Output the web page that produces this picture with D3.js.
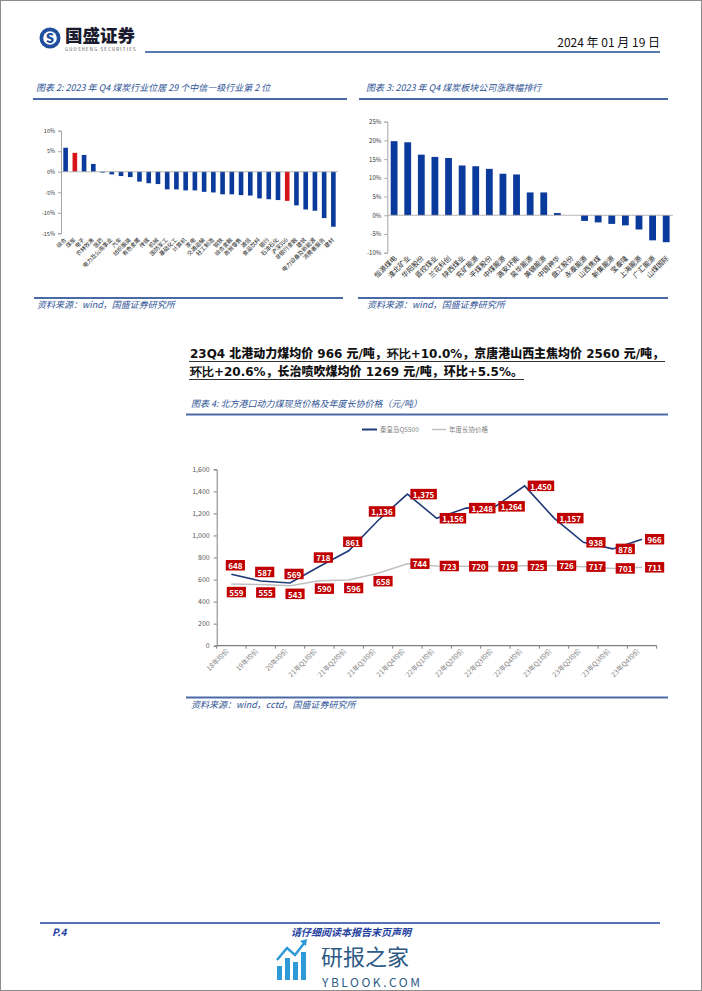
<!DOCTYPE html>
<html><head><meta charset="utf-8">
<script src="https://cdn.jsdelivr.net/npm/d3@7"></script>
<style>
body{margin:0;background:#fff}
svg{display:block}
text{font-family:"Noto Sans CJK SC","Liberation Sans",sans-serif}
</style>
</head><body>
<svg id="chart" width="702" height="991"></svg>
<script>
// ---------- DATA ----------
const industries=["综合","煤炭","电子","农林牧渔","医药","电力及公用事业","汽车","纺织服装","有色金属","传媒","机械","国防军工","基础化工","计算机","家电","交通运输","轻工制造","钢铁","综合金融","商贸零售","通信","食品饮料","银行","石油石化","沪深300","非银行金融","建筑","电力设备及新能源","消费者服务","建材"];
const industryReturns=[5.85,4.6,4.1,1.9,-0.2,-0.65,-1.05,-1.3,-2.4,-2.8,-3.0,-4.3,-4.3,-4.55,-4.55,-4.9,-5.05,-5.5,-5.5,-5.7,-5.8,-6.5,-6.7,-6.9,-7.1,-8.2,-9.2,-9.5,-11.3,-13.4];
const industryHighlight=["煤炭","沪深300"];
const industryTicks=[10,5,0,-5,-10,-15];

const companies=["恒源煤电","淮北矿业","华阳股份","晋控煤业","兰花科创","陕西煤业","兖矿能源","平煤股份","中煤能源","潞安环能","昊华能源","美锦能源","中国神华","盘江股份","永泰能源","山西焦煤","新集能源","宝泰隆","上海能源","广汇能源","山煤国际"];
const companyReturns=[19.8,19.5,16.2,15.6,15.3,13.3,13.1,12.4,11.1,10.9,6.1,6.1,0.6,0.0,-1.5,-1.9,-2.3,-2.7,-3.8,-6.7,-7.2];
const companyTicks=[25,20,15,10,5,0,-5,-10];

const periods=["18年均价","19年均价","20年均价","21年Q1均价","21年Q2均价","21年Q3均价","21年Q4均价","22年Q1均价","22年Q2均价","22年Q3均价","22年Q4均价","23年Q1均价","23年Q2均价","23年Q3均价","23年Q4均价"];
const qhdPrice=[648,587,569,718,861,1136,1375,1156,1248,1264,1450,1157,938,878,966];
const contractPrice=[559,555,543,590,596,658,744,723,720,719,725,726,717,701,711];
const priceTicks=[0,200,400,600,800,1000,1200,1400,1600];
const seriesNames=["秦皇岛Q5500","年度长协价格"];

// ---------- DRAW ----------
const svg=d3.select("#chart");
const BLUE="#1F4E9C", TITLE="#2E5395", RULE="#4A6AA5";

// page frame
svg.append("rect").attr("x",0.5).attr("y",0.5).attr("width",701).attr("height",990).attr("fill","none").attr("stroke","#8c8c8c");

// header
const lg=svg.append("g");
lg.append("circle").attr("cx",50).attr("cy",38).attr("r",10.5).attr("fill",BLUE);
lg.append("circle").attr("cx",50).attr("cy",38).attr("r",6.8).attr("fill","#fff");
lg.append("text").attr("x",50).attr("y",42.5).attr("text-anchor","middle").attr("font-size",13).attr("font-weight",900).attr("fill",BLUE).attr("font-family","DejaVu Sans").text("S");
svg.append("text").attr("x",65).attr("y",42).attr("font-size",17.5).attr("font-weight",900).attr("fill","#1a1a2e").text("国盛证券");
svg.append("text").attr("x",65).attr("y",51).attr("font-size",4.2).attr("letter-spacing",1.3).attr("fill","#333").attr("font-family","Liberation Sans").text("GUOSHENG SECURITIES");
svg.append("line").attr("x1",145).attr("x2",660).attr("y1",52).attr("y2",52).attr("stroke",BLUE).attr("stroke-width",1.6);
svg.append("text").attr("x",660).attr("y",47).attr("text-anchor","end").attr("font-size",12).attr("fill","#111")
  .attr("font-family","Liberation Sans Narrow, Liberation Sans").text("2024 年 01 月 19 日");

function titleBlock(x,y,lineX1,lineX2,lineY,txt){
  svg.append("text").attr("x",x).attr("y",y).attr("font-size",9).attr("font-style","italic").attr("fill",TITLE).text(txt);
  svg.append("line").attr("x1",lineX1).attr("x2",lineX2).attr("y1",lineY).attr("y2",lineY).attr("stroke",RULE).attr("stroke-width",2);
}
function sourceBlock(x,y,lineX1,lineX2,lineY,txt){
  svg.append("line").attr("x1",lineX1).attr("x2",lineX2).attr("y1",lineY).attr("y2",lineY).attr("stroke",RULE).attr("stroke-width",2);
  svg.append("text").attr("x",x).attr("y",y).attr("font-size",9).attr("font-style","italic").attr("fill",TITLE).text(txt);
}

titleBlock(36,91,33,347,99,"图表 2:  2023 年 Q4 煤炭行业位居 29 个中信一级行业第 2 位");
titleBlock(366,91,359,668,99,"图表 3:  2023 年 Q4 煤炭板块公司涨跌幅排行");
sourceBlock(37,308,34,343,298,"资料来源：wind，国盛证券研究所");
sourceBlock(367,308,358,668,298,"资料来源：wind，国盛证券研究所");

function barChart(o){
  const g=svg.append("g");
  const y=d3.scaleLinear().domain(o.domain).range([o.yBot,o.yTop]);
  const x=d3.scaleBand().domain(o.cats).range([o.x0,o.x1]).paddingInner(0.5).paddingOuter(0.25);
  const ax=g.append("g").attr("transform",`translate(${o.x0},0)`)
    .call(d3.axisLeft(y).tickValues(o.ticks).tickSize(3).tickPadding(3).tickFormat(d=>d+"%"));
  ax.select(".domain").attr("stroke","#a6a6a6");
  ax.selectAll(".tick line").attr("stroke","#a6a6a6");
  ax.selectAll(".tick text").attr("font-size",o.tickFont).attr("fill","#333").attr("font-family","Liberation Sans");
  g.selectAll("rect.bar").data(o.cats).join("rect").attr("class","bar")
    .attr("x",d=>x(d)).attr("width",x.bandwidth())
    .attr("y",(d,i)=>y(Math.max(0,o.vals[i]))).attr("height",(d,i)=>Math.abs(y(o.vals[i])-y(0)))
    .attr("fill",d=>o.hl.includes(d)?"#D7141A":"#0A3A9C");
  g.append("line").attr("x1",o.x0).attr("x2",o.x1).attr("y1",y(0)).attr("y2",y(0)).attr("stroke","#a6a6a6").attr("stroke-width",0.8);
  g.selectAll("text.cat").data(o.cats).join("text").attr("class","cat")
    .attr("transform",d=>`translate(${x(d)+x.bandwidth()/2+o.labDx},${o.yBot+o.labDy}) rotate(-45)`)
    .attr("text-anchor","end").attr("font-size",o.labFont).attr("fill","#222").text(d=>d);
}

barChart({x0:61,x1:338,yTop:130.7,yBot:233.3,domain:[-15,10],cats:industries,vals:industryReturns,
  ticks:industryTicks,tickFont:5.5,labFont:5.6,labDx:1,labDy:7,hl:industryHighlight});
barChart({x0:387.3,x1:673,yTop:121.7,yBot:252.7,domain:[-10,25],cats:companies,vals:companyReturns,
  ticks:companyTicks,tickFont:6,labFont:7,labDx:3,labDy:6,hl:[]});

// paragraph
function para(y,parts,width){
  const t=svg.append("text").attr("x",190).attr("y",y).attr("font-size",12).attr("font-weight",700).attr("fill","#111")
    .attr("textLength",width).attr("lengthAdjust","spacingAndGlyphs");
  parts.forEach(p=>{
    t.append("tspan").attr("font-family",p[1]?"DejaVu Sans":"Noto Sans CJK SC").attr("font-weight",p[1]?700:800).text(p[0]);
  });
  svg.append("line").attr("x1",189).attr("x2",190+width+1).attr("y1",y+3.5).attr("y2",y+3.5).attr("stroke","#333").attr("stroke-width",1);
}
para(358,[["23Q4 ",1],["北港动力煤均价",0],[" 966 ",1],["元",0],["/",1],["吨，",0],["环比+10.0%",1],["，京唐港山西主焦均价",0],[" 2560 ",1],["元",0],["/",1],["吨，",0]],474);
para(376,[["环比+20.6%",1],["，长治喷吹煤均价",0],[" 1269 ",1],["元",0],["/",1],["吨，环比",0],["+5.5%",1],["。",0]],333);

// chart 4
titleBlock(191,407,186,668,414.5,"图表 4:  北方港口动力煤现货价格及年度长协价格（元/吨）");
sourceBlock(191,708,186,668,697.5,"资料来源：wind，cctd，国盛证券研究所");

const g4=svg.append("g");
const y4=d3.scaleLinear().domain([0,1600]).range([645.7,469.3]);
const x4=d3.scaleBand().domain(periods).range([216.7,656.7]).padding(0);
const cx=p=>x4(p)+x4.bandwidth()/2;
const ax4=g4.append("g").attr("transform","translate(216.7,0)")
  .call(d3.axisLeft(y4).tickValues(priceTicks).tickSize(3).tickPadding(4).tickFormat(d3.format(",")));
ax4.select(".domain").attr("stroke","#7f7f7f");
ax4.selectAll(".tick line").attr("stroke","#7f7f7f");
ax4.selectAll(".tick text").attr("font-size",7).attr("fill","#595959").attr("font-family","Liberation Sans");
g4.append("line").attr("x1",216.7).attr("x2",656.7).attr("y1",y4(0)).attr("y2",y4(0)).attr("stroke","#7f7f7f").attr("stroke-width",1.2);
const bounds=periods.map(d=>x4(d)).concat([x4.range()[1]]);
g4.selectAll("line.xt").data(bounds).join("line").attr("class","xt")
  .attr("x1",d=>d).attr("x2",d=>d).attr("y1",y4(0)).attr("y2",y4(0)+3).attr("stroke","#7f7f7f");
g4.selectAll("text.xl").data(periods).join("text").attr("class","xl")
  .attr("transform",d=>`translate(${cx(d)-2},${y4(0)+6}) rotate(-45)`)
  .attr("text-anchor","end").attr("font-size",6.8).attr("fill","#7f7f7f").text(d=>d);

const line4=d3.line().x((d,i)=>cx(periods[i])).y(d=>y4(d));
g4.append("path").attr("d",line4(contractPrice)).attr("fill","none").attr("stroke","#c0c0c0").attr("stroke-width",1.5);
g4.append("path").attr("d",line4(qhdPrice)).attr("fill","none").attr("stroke","#1F3A7A").attr("stroke-width",1.6);

function dataLabels(vals,mode){
  vals.forEach((v,i)=>{
    const px=cx(periods[i]), py=y4(v);
    const rect=g4.append("rect").attr("fill","#C00000");
    const t=g4.append("text").attr("font-size",8).attr("font-weight",700).attr("fill","#fff")
      .attr("font-family","Liberation Sans").attr("text-anchor","middle").attr("dominant-baseline","central").text(d3.format(",")(v));
    const w=t.node().getComputedTextLength()+5, h=10.5;
    let ccx, ccy;
    if(i<6){
      if(mode==="top"){ccx=px+4; ccy=py-9;} else {ccx=px+5; ccy=py+8;}
    } else {ccx=px+3+w/2; ccy=py;}
    rect.attr("x",ccx-w/2).attr("y",ccy-h/2).attr("width",w).attr("height",h);
    t.attr("x",ccx).attr("y",ccy+0.3);
  });
}
dataLabels(qhdPrice,"top");
dataLabels(contractPrice,"bottom");

// legend
const lgd=svg.append("g");
lgd.append("line").attr("x1",362).attr("x2",377).attr("y1",429.5).attr("y2",429.5).attr("stroke","#1F3A7A").attr("stroke-width",2);
lgd.append("text").attr("x",380).attr("y",432).attr("font-size",6.5).attr("fill","#7f7f7f").text(seriesNames[0]);
lgd.append("line").attr("x1",432).attr("x2",446).attr("y1",429.5).attr("y2",429.5).attr("stroke","#c0c0c0").attr("stroke-width",1.5);
lgd.append("text").attr("x",449).attr("y",432).attr("font-size",6.5).attr("fill","#7f7f7f").text(seriesNames[1]);

// footer
svg.append("line").attr("x1",40).attr("x2",660).attr("y1",923).attr("y2",923).attr("stroke","#1F3F9F").attr("stroke-width",1.6);
svg.append("text").attr("x",52).attr("y",936).attr("font-size",10).attr("font-weight",700).attr("font-style","italic").attr("fill","#1F3F9F").attr("font-family","Liberation Sans").text("P.4");
svg.append("text").attr("x",351).attr("y",936).attr("text-anchor","middle").attr("font-size",10).attr("font-weight",700).attr("font-style","italic").attr("fill","#1F3F9F").text("请仔细阅读本报告末页声明");

// watermark
const wm=svg.append("g");
[[277,966,5,14],[285,958,5,22],[293,962,5,18],[301,952,5,28]].forEach(r=>wm.append("rect").attr("x",r[0]).attr("y",r[1]).attr("width",r[2]).attr("height",r[3]).attr("fill","#2E9BD8"));
wm.append("path").attr("d","M277,960 L287,948 L295,955 L305,942").attr("fill","none").attr("stroke","#2E9BD8").attr("stroke-width",2.5);
wm.append("path").attr("d","M300,941 L307,939 L306,946 Z").attr("fill","#2E9BD8");
wm.append("text").attr("x",321).attr("y",965).attr("font-size",22).attr("fill","#2C5A85").text("研报之家");
wm.append("text").attr("x",322).attr("y",986.5).attr("font-size",12).attr("fill","#2C5A85").attr("font-family","Liberation Sans").attr("textLength",98).text("YBLOOK.COM");
</script>
</body></html>
